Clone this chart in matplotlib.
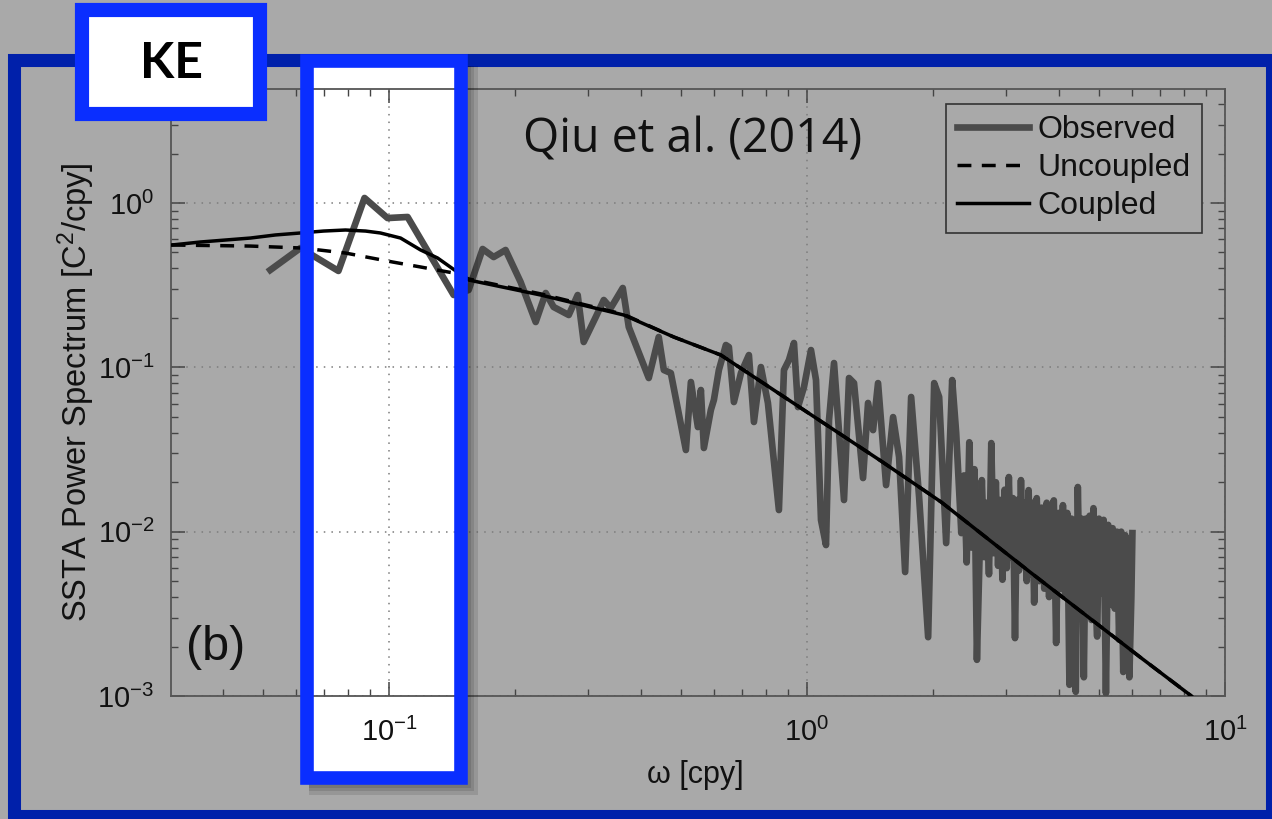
import matplotlib
matplotlib.use("Agg")
import matplotlib.pyplot as plt
from matplotlib.patches import Rectangle
from matplotlib.ticker import LogLocator, NullFormatter, FixedLocator, FixedFormatter

# Observed SSTA spectrum
obs_freq = [0.0520, 0.0614, 0.0757, 0.0874, 0.0992, 0.1108, 0.1428, 0.1551, 0.1675, 0.1780,
            0.1901, 0.2065, 0.2244, 0.2371, 0.2477, 0.2692, 0.2828, 0.2923, 0.3124, 0.3265,
            0.3393, 0.3625, 0.3747, 0.4183, 0.4419, 0.4545, 0.4724, 0.5132, 0.5276, 0.5483,
            0.5574, 0.5667, 0.5889, 0.5988, 0.6155, 0.6397, 0.6504, 0.6686, 0.6951, 0.7262,
            0.7466, 0.7759, 0.8064, 0.8567, 0.8809, 0.9055, 0.9308, 0.9515, 0.9836, 1.0223,
            1.0510, 1.0803, 1.1104, 1.1290, 1.1606, 1.2262, 1.2605, 1.2958, 1.3617, 1.3998,
            1.4390, 1.4791, 1.5461, 1.6069, 1.6607, 1.7172, 1.7749, 1.8545, 1.9492, 2.0149,
            2.0709, 2.1526, 2.2251, 2.2748,
            2.34, 2.375, 2.41, 2.445, 2.48, 2.515, 2.55, 2.585, 2.62, 2.655,
            2.69, 2.725, 2.76, 2.795, 2.83, 2.865, 2.90, 2.935, 2.97, 3.005,
            3.04, 3.075, 3.11, 3.145, 3.18, 3.215, 3.25, 3.285, 3.32, 3.355,
            3.39, 3.425, 3.46, 3.495, 3.545, 3.595, 3.645, 3.695, 3.745, 3.795,
            3.845, 3.895, 3.945, 3.995, 4.045, 4.095, 4.145, 4.195, 4.245, 4.295,
            4.345, 4.395, 4.445, 4.495, 4.545, 4.595, 4.645, 4.695, 4.745, 4.795,
            4.845, 4.895, 4.945, 4.995, 5.06, 5.125, 5.19, 5.255, 5.32, 5.385,
            5.45, 5.515, 5.58, 5.645, 5.71, 5.775, 5.84, 5.905, 5.97, 6.005]
obs_power = [0.391, 0.532, 0.386, 1.073, 0.810, 0.822, 0.2755, 0.2955, 0.525, 0.469,
             0.5176, 0.3305, 0.1887, 0.2834, 0.2329, 0.2082, 0.2755, 0.1426, 0.2024, 0.2569,
             0.2296, 0.3040, 0.1759, 0.0861, 0.1529, 0.0963, 0.0923, 0.0314, 0.0814, 0.0433,
             0.0728, 0.0323, 0.0550, 0.0633, 0.0963, 0.1367, 0.1329, 0.0615, 0.0923, 0.1188,
             0.0465, 0.1004, 0.0607, 0.01354, 0.0963, 0.1108, 0.1406, 0.0573, 0.0759, 0.1274,
             0.0837, 0.01177, 0.00829, 0.0478, 0.1062, 0.01558, 0.0861, 0.0802, 0.0212, 0.0607,
             0.0415, 0.0802, 0.0192, 0.0498, 0.0285, 0.00568, 0.0660, 0.01624, 0.00228, 0.0802,
             0.0660, 0.00852, 0.0837, 0.0398,
             0.0098, 0.022, 0.0065, 0.035, 0.0080, 0.024, 0.00166, 0.0065, 0.0206, 0.0070,
             0.0150, 0.0055, 0.0346, 0.0074, 0.0200, 0.0062, 0.0156, 0.0051, 0.0180, 0.0060,
             0.0215, 0.0070, 0.0160, 0.00225, 0.0156, 0.0058, 0.0206, 0.0065, 0.0150, 0.0050,
             0.0179, 0.0055, 0.0150, 0.0037, 0.0160, 0.0050, 0.0140, 0.0045, 0.0150, 0.0040,
             0.0140, 0.0155, 0.0021, 0.0130, 0.0045, 0.0145, 0.0040, 0.0130, 0.00117, 0.0120,
             0.0038, 0.00106, 0.0187, 0.0042, 0.0120, 0.0013, 0.0120, 0.0036, 0.0125, 0.0029,
             0.0139, 0.0040, 0.0023, 0.0120, 0.0042, 0.0118, 0.00104, 0.0110, 0.0036, 0.0105,
             0.0034, 0.0100, 0.0022, 0.0100, 0.0014, 0.0095, 0.0032, 0.0013, 0.0040, 0.0098]

# Uncoupled / coupled model spectra
unc_freq = [0.0302, 0.0466, 0.0621, 0.0787, 0.102, 0.119, 0.1428, 0.1551, 0.2306,
            0.3645, 0.4803, 0.6223, 0.9674, 1.504, 2.094, 3.44, 6.31, 8.31]
unc_power = [0.555, 0.547, 0.532, 0.496, 0.4375, 0.408, 0.375, 0.345, 0.28,
             0.21, 0.1529, 0.1188, 0.0565, 0.0269, 0.01515, 0.0056, 0.0017, 0.001]
cpl_freq = [0.0302, 0.0354, 0.0466, 0.0535, 0.0614, 0.0697, 0.0787, 0.0879, 0.0954,
            0.1066, 0.119, 0.1307, 0.1435, 0.1551, 0.2306, 0.3645, 0.4803, 0.6223,
            0.9674, 1.504, 2.094, 3.44, 6.31, 8.31]
cpl_power = [0.555, 0.579, 0.612, 0.639, 0.657, 0.675, 0.685, 0.675, 0.657,
             0.612, 0.518, 0.4627, 0.391, 0.340, 0.2755, 0.2082, 0.1529, 0.1188,
             0.0565, 0.0269, 0.01515, 0.0056, 0.0017, 0.001]

x_ticks = [0.1, 1, 10]
x_tick_labels = ["$10^{-1}$", "$10^{0}$", "$10^{1}$"]
y_ticks = [1e-3, 1e-2, 1e-1, 1]
y_tick_labels = ["$10^{-3}$", "$10^{-2}$", "$10^{-1}$", "$10^{0}$"]

W, H = 1272, 819
BG = "#a9a9a9"
DARK_BLUE = "#0020aa"
BRIGHT_BLUE = "#0a2eff"

plt.rcParams["mathtext.fontset"] = "custom"
plt.rcParams["mathtext.rm"] = "Liberation Sans"
plt.rcParams["mathtext.it"] = "Liberation Sans:italic"
plt.rcParams["mathtext.default"] = "regular"
plt.rcParams["font.family"] = ["Liberation Sans", "DejaVu Sans"]


def px_box(x0, y0, x1, y1):
    # pixel box (top-left origin) -> figure fraction (x, y, w, h)
    return (x0 / W, 1 - y1 / H, (x1 - x0) / W, (y1 - y0) / H)


def fig_rect(x0, y0, x1, y1, **kw):
    l, b, w, h = px_box(x0, y0, x1, y1)
    return fig.add_artist(Rectangle((l, b), w, h, transform=fig.transFigure, **kw))


fig = plt.figure(figsize=(W / 100, H / 100), dpi=100, facecolor=BG)
ax = fig.add_axes(px_box(171, 89, 1225, 696))
ax.set_facecolor("none")

ax.plot(obs_freq, obs_power, color="#4b4b4b", linewidth=4.8, label="Observed", zorder=3)
ax.plot(unc_freq, unc_power, color="black", linewidth=2.5, dashes=(4, 3),
        label="Uncoupled", zorder=4)
ax.plot(cpl_freq, cpl_power, color="black", linewidth=2.5, label="Coupled", zorder=5)

ax.set_xscale("log")
ax.set_yscale("log")
ax.set_xlim(0.0301, 10)
ax.set_ylim(1e-3, 4.94)

ax.xaxis.set_major_locator(FixedLocator(x_ticks))
ax.xaxis.set_major_formatter(FixedFormatter(x_tick_labels))
ax.yaxis.set_major_locator(FixedLocator(y_ticks))
ax.yaxis.set_major_formatter(FixedFormatter(y_tick_labels))
ax.xaxis.set_minor_locator(LogLocator(base=10, subs=range(2, 10)))
ax.yaxis.set_minor_locator(LogLocator(base=10, subs=range(2, 10)))
ax.xaxis.set_minor_formatter(NullFormatter())
ax.yaxis.set_minor_formatter(NullFormatter())
ax.tick_params(which="both", direction="in", top=True, right=True,
               color="#444444", labelsize=21, labelcolor="#111111")
ax.tick_params(which="major", length=10, width=1.1, pad=12)
ax.tick_params(axis="x", which="major", pad=16)
ax.tick_params(which="minor", length=5, width=1.0)
for s in ax.spines.values():
    s.set_color("#555555")
    s.set_linewidth(1.3)

ax.grid(True, which="major", color="#7c7c7c", linestyle=(0, (1, 4)), linewidth=1.1)

ax.set_ylabel("SSTA Power Spectrum [C$^2$/cpy]", fontsize=23.5, color="#111111")
ax.yaxis.set_label_coords(-0.070, 0.5)
ax.set_xlabel("ω [cpy]", fontsize=22, color="#111111")
ax.xaxis.set_label_coords(0.497, -0.105)

leg = ax.legend(loc="upper right", bbox_to_anchor=(0.978, 0.975), borderaxespad=0,
                fontsize=23, handlelength=2.25, handletextpad=0.28, borderpad=0.35,
                labelspacing=0.25, fancybox=False, framealpha=1, facecolor=BG,
                edgecolor="#333333")
leg.get_frame().set_linewidth(1.2)
for t in leg.get_texts():
    t.set_color("#111111")

ax.text(0.014, 0.06, "(b)", transform=ax.transAxes, fontsize=35, color="#111111")

fig.text(523 / W, 1 - 153 / H, "Qiu et al. (2014)", fontsize=33.5,
         family=["Open Sans", "DejaVu Sans"], color="#111111",
         ha="left", va="baseline")

# outer dark-blue frame
fig_rect(13.5, 59.5, 1271.5, 816, fill=False, edgecolor=DARK_BLUE,
         linewidth=9.4, zorder=2)

# highlight box: white fill behind the axes, soft shadow and bright border on top
fig_rect(306.5, 61, 460.5, 777.5, facecolor="white", edgecolor="none", zorder=-1)
for w in (11, 7, 4):
    fig_rect(467, 66, 467 + w, 784 + w, facecolor="black", edgecolor="none",
             alpha=0.11, zorder=6)
    fig_rect(309, 784, 467, 784 + w, facecolor="black", edgecolor="none",
             alpha=0.11, zorder=6)
fig_rect(306.5, 61, 460.5, 777.5, fill=False, edgecolor=BRIGHT_BLUE,
         linewidth=9.8, zorder=7)

# KE label box
fig_rect(82, 10, 260, 114, facecolor="white", edgecolor=BRIGHT_BLUE,
         linewidth=10.2, zorder=8)
fig.text(171 / W, 1 - 63 / H, "KE", fontsize=36, weight="bold",
         family=["Lato", "DejaVu Sans"], color="black", ha="center",
         va="center", zorder=9)

fig.savefig("out.png", dpi=100, facecolor=BG)
